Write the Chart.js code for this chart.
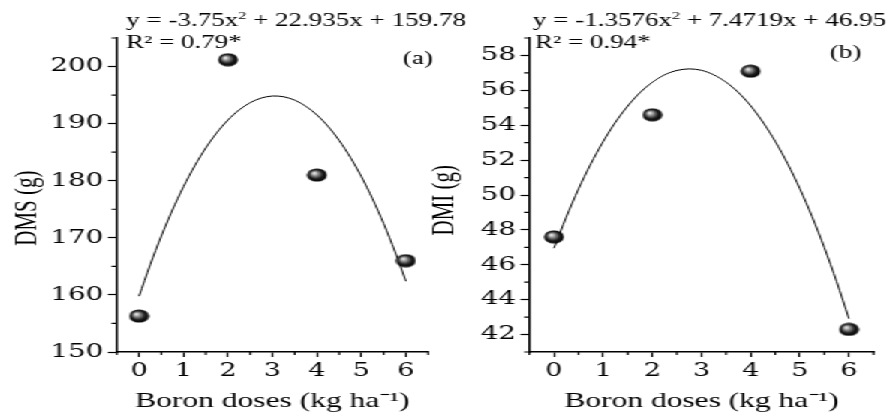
<!DOCTYPE html>
<html><head><meta charset="utf-8">
<script src="https://cdn.jsdelivr.net/npm/chart.js@4.4.1/dist/chart.umd.min.js"></script>
<style>
html,body{margin:0;padding:0;background:#fff;overflow:hidden;width:890px;height:412px}
#wrap{position:absolute;left:0;top:0;width:593px;height:412px;transform:scaleX(1.50084);transform-origin:0 0}
#wrap canvas{position:absolute;left:0;top:0}
</style></head><body>
<div id="wrap"><canvas id="cA" width="593" height="412"></canvas><canvas id="cB" width="593" height="412"></canvas></div>
<script>
// ---- data ----
const doses = [0, 2, 4, 6];
const dmsValues = [156.3, 201.2, 181.0, 166.0];
const dmiValues = [47.6, 54.6, 57.1, 42.3];
// fitted curves, read at 0.25 steps of the dose
const curveDoses = [0, 0.25, 0.5, 0.75, 1, 1.25, 1.5, 1.75, 2, 2.25, 2.5, 2.75, 3, 3.25, 3.5, 3.75, 4, 4.25, 4.5, 4.75, 5, 5.25, 5.5, 5.75, 6];
const dmsCurve = [159.78, 165.28, 170.31, 174.87, 178.97, 182.59, 185.75, 188.43, 190.65, 192.40, 193.68, 194.49, 194.84, 194.71, 194.12, 193.05, 191.52, 189.52, 187.05, 184.11, 180.71, 176.83, 172.49, 167.67, 162.39];
const dmiCurve = [46.95, 48.73, 50.35, 51.79, 53.06, 54.17, 55.10, 55.87, 56.46, 56.89, 57.14, 57.23, 57.15, 56.89, 56.47, 55.88, 55.12, 54.18, 53.08, 51.81, 50.37, 48.76, 46.98, 45.03, 42.91];
const xTickValues = [0, 1, 2, 3, 4, 5, 6];
const xMinorValues = [-0.5, 0.5, 1.5, 2.5, 3.5, 4.5, 5.5, 6.5];
const dmsTickValues = [150, 160, 170, 180, 190, 200];
const dmsMinorValues = [155, 165, 175, 185, 195, 205];
const dmiTickValues = [42, 44, 46, 48, 50, 52, 54, 56, 58];
const dmiMinorValues = [41, 43, 45, 47, 49, 51, 53, 55, 57, 59];
const xTitle = 'Boron doses (kg ha\u207B\u00B9)';
const dmsTitle = 'DMS (g)';
const dmiTitle = 'DMI (g)';
const eqA = ['y = -3.75x', '2', ' + 22.935x + 159.78'];
const eqB = ['y = -1.3576x', '2', ' + 7.4719x + 46.95'];
const r2A = 'R\u00B2 = 0.79*';
const r2B = 'R\u00B2 = 0.94*';
const tagA = '(a)';
const tagB = '(b)';

const FAM = '"Liberation Serif", "Times New Roman", serif';
const TICKFAM = '"DejaVu Serif", "Liberation Serif", serif';
Chart.defaults.font.family = FAM;
Chart.defaults.color = '#000';

function makeBall() {
  const c = document.createElement('canvas'); c.width = 14; c.height = 14;
  const g = c.getContext('2d');
  const grd = g.createRadialGradient(5, 5, 0.3, 7, 7, 7);
  grd.addColorStop(0, '#f4f4f4'); grd.addColorStop(0.3, '#8a8a8a');
  grd.addColorStop(0.65, '#1a1a1a'); grd.addColorStop(1, '#000');
  g.fillStyle = grd; g.beginPath(); g.arc(7, 7, 6.6, 0, Math.PI * 2); g.fill();
  return c;
}
const ball = makeBall();

const annot = {
  id: 'annot',
  afterDraw(chart, args, o) {
    const ctx = chart.ctx, ca = chart.chartArea;
    const xs = chart.scales.x, ys = chart.scales.y;
    ctx.save();
    ctx.strokeStyle = '#000'; ctx.lineWidth = 1.2;
    ctx.beginPath();
    o.xMinor.forEach(v => { const px = xs.getPixelForValue(v); ctx.moveTo(px, ca.bottom); ctx.lineTo(px, ca.bottom + 3); });
    o.yMinor.forEach(v => { const py = ys.getPixelForValue(v); ctx.moveTo(ca.left, py); ctx.lineTo(ca.left - 3.5, py); });
    ctx.stroke();
    ctx.fillStyle = '#000';
    ctx.textBaseline = 'alphabetic';
    ctx.textAlign = 'left';
    const big = '18px ' + FAM, small = '11px ' + FAM;
    let x = o.eqX; const y = o.eqY;
    ctx.font = big; ctx.fillText(o.eq[0], x, y); x += ctx.measureText(o.eq[0]).width;
    ctx.font = small; ctx.fillText(o.eq[1], x, y - 7); x += ctx.measureText(o.eq[1]).width;
    ctx.font = big; ctx.fillText(o.eq[2], x, y);
    ctx.fillText(o.r2, o.r2X, o.r2Y);
    ctx.fillText(o.tag, o.tagX, o.tagY);
    ctx.restore();
  }
};

function makeChart(id, cfg) {
  return new Chart(document.getElementById(id), {
    type: 'scatter',
    data: { datasets: [
      { data: doses.map((x, i) => ({ x, y: cfg.ys[i] })), pointStyle: ball, pointRadius: 7, showLine: false },
      { data: curveDoses.map((x, i) => ({ x, y: cfg.curve[i] })), showLine: true, pointRadius: 0,
        borderColor: '#000', borderWidth: 1, tension: 0.3, fill: false }
    ] },
    options: {
      responsive: false, devicePixelRatio: 1, animation: false, events: [],
      layout: { padding: { left: cfg.padL, right: cfg.padR, top: 38, bottom: 0 } },
      plugins: {
        legend: { display: false }, tooltip: { enabled: false },
        annot: cfg.annot
      },
      scales: {
        x: {
          type: 'linear', position: 'bottom', min: -0.5, max: 6.5,
          afterBuildTicks: s => { s.ticks = xTickValues.map(v => ({ value: v })); },
          afterFit: s => { s.height = 60; },
          ticks: { color: '#000', font: { family: TICKFAM, size: 18 }, padding: 4, maxRotation: 0, autoSkip: false },
          grid: { drawOnChartArea: false, drawTicks: true, tickLength: 5, color: '#000', tickWidth: 1.2 },
          border: { display: true, color: '#000', width: 1.5 },
          title: { display: true, text: xTitle, color: '#000', font: { size: 21, lineHeight: 1 }, padding: { top: 0, bottom: 0 } }
        },
        y: {
          type: 'linear', position: 'left', min: cfg.yMin, max: cfg.yMax,
          afterBuildTicks: s => { s.ticks = cfg.yTicks.map(v => ({ value: v })); },
          afterFit: s => { s.width = cfg.yWidth; },
          ticks: { color: '#000', font: { family: TICKFAM, size: 18.5 }, padding: 3, autoSkip: false },
          grid: { drawOnChartArea: false, drawTicks: true, tickLength: 6, color: '#000', tickWidth: 1.2 },
          border: { display: true, color: '#000', width: 1.5 },
          title: { display: true, text: cfg.yTitle, color: '#000', font: { size: 21 }, padding: { top: 5.7, bottom: 0 } }
        }
      }
    },
    plugins: [annot]
  });
}

makeChart('cA', {
  ys: dmsValues, curve: dmsCurve, yMin: 150, yMax: 205, yTicks: dmsTickValues,
  yTitle: dmsTitle + '\u00A0\u00A0\u00A0\u00A0\u00A0', yWidth: 77.8, padL: 0, padR: 307.7,
  annot: { xMinor: xMinorValues, yMinor: dmsMinorValues, eq: eqA, eqX: 84, eqY: 26, r2: r2A, r2X: 84, r2Y: 48, tag: tagA, tagX: 268.5, tagY: 64 }
});
makeChart('cB', {
  ys: dmiValues, curve: dmiCurve, yMin: 41, yMax: 59, yTicks: dmiTickValues,
  yTitle: dmiTitle + '\u00A0\u00A0', yWidth: 75, padL: 277.7, padR: 10.9,
  annot: { xMinor: xMinorValues, yMinor: dmiMinorValues, eq: eqB, eqX: 355, eqY: 26, r2: r2B, r2X: 356.5, r2Y: 48, tag: tagB, tagX: 553, tagY: 58 }
});
</script>
</body></html>
